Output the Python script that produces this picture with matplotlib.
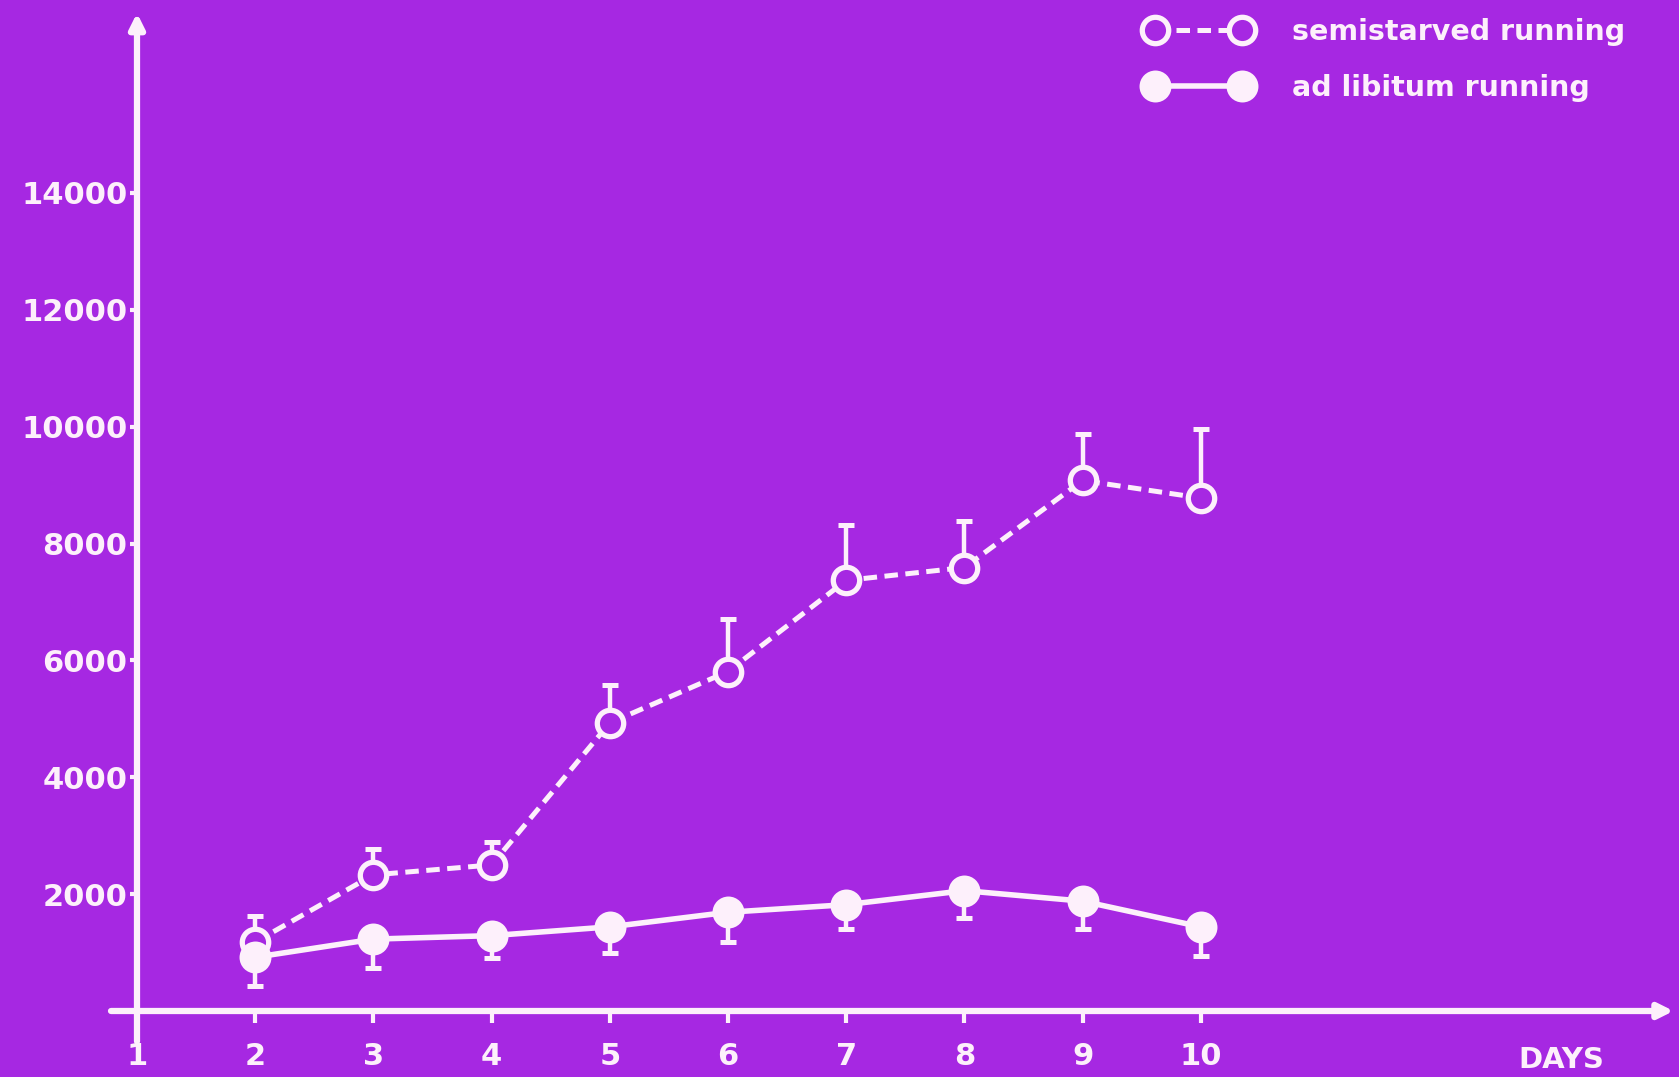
import numpy as np
import matplotlib
matplotlib.use("Agg")
import matplotlib.pyplot as plt

# data
days = [2, 3, 4, 5, 6, 7, 8, 9, 10]
semistarved = [1180, 2330, 2500, 4930, 5810, 7370, 7590, 9080, 8780]
semistarved_err = [450, 440, 400, 650, 900, 940, 790, 800, 1180]
ad_libitum = [920, 1230, 1290, 1440, 1690, 1820, 2060, 1880, 1440]
ad_libitum_err = [490, 490, 390, 440, 510, 420, 460, 480, 500]
xticks = [1, 2, 3, 4, 5, 6, 7, 8, 9, 10]
yticks = [2000, 4000, 6000, 8000, 10000, 12000, 14000]
labels = ["semistarved running", "ad libitum running"]

bg = "#a628e2"
fg = "#fdf0fb"

plt.rcParams['font.family'] = ['DejaVu Sans']
plt.rcParams['font.weight'] = 'bold'

fig = plt.figure(figsize=(16.79, 10.77), dpi=100)
fig.patch.set_facecolor(bg)

# axes box: left edge = y axis (day 1), bottom edge = x axis (0)
ax = fig.add_axes([137/1679, 66/1077, 1536.6/1679, 1001/1077])
ax.set_facecolor(bg)
ax.set_xlim(1, 14)
ax.set_ylim(0, 17132)
for s in ax.spines.values():
    s.set_visible(False)

# axis lines with arrow heads
arr = dict(arrowstyle='-|>', lw=4.5, color=fg, mutation_scale=22,
           shrinkA=0, shrinkB=0)
ax.annotate('', xy=(14.0, 0), xytext=(0.78, 0), arrowprops=arr,
            annotation_clip=False)
ax.annotate('', xy=(1, 17080), xytext=(1, -520), arrowprops=arr,
            annotation_clip=False)

# error bars (one sided)
z = np.zeros(len(days))
ax.errorbar(days, semistarved, yerr=[z, semistarved_err], fmt='none',
            ecolor=fg, elinewidth=3.2, capsize=6, capthick=3.6, zorder=2)
ax.errorbar(days, ad_libitum, yerr=[ad_libitum_err, z], fmt='none',
            ecolor=fg, elinewidth=3.2, capsize=6, capthick=3.6, zorder=2)

l1, = ax.plot(days, semistarved, color=fg, lw=3.6, ls=(0, (2.7, 1.5)),
              marker='o', ms=19, mfc=bg, mec=fg, mew=3.8, zorder=3)
l2, = ax.plot(days, ad_libitum, color=fg, lw=4, ls='-',
              marker='o', ms=23, mfc=fg, mec=fg, mew=0, zorder=4)

ax.set_xticks(xticks)
ax.set_xticklabels([str(t) for t in xticks])
ax.set_yticks(yticks)
ax.set_yticklabels([str(t) for t in yticks])
ax.tick_params(axis='x', colors=fg, length=8.5, width=3, pad=14,
               labelsize=22, labelcolor=fg)
ax.tick_params(axis='y', colors=fg, length=5, width=3, pad=2,
               labelsize=22, labelcolor=fg)

fig.text(1561/1679, 1 - 1060/1077, 'DAYS', color=fg, fontsize=21,
         fontweight='bold', ha='center', va='center')

leg = ax.legend([l1, l2], labels, loc='upper left',
                bbox_to_anchor=(1146.7/1679, 0.9830),
                bbox_transform=fig.transFigure, frameon=False, numpoints=2,
                handlelength=3.66, handletextpad=1.45, labelspacing=0.98,
                borderpad=0, borderaxespad=0,
                prop=dict(size=20.5, weight='bold'))
for t in leg.get_texts():
    t.set_color(fg)

fig.savefig("out.png", dpi=100, facecolor=bg)
